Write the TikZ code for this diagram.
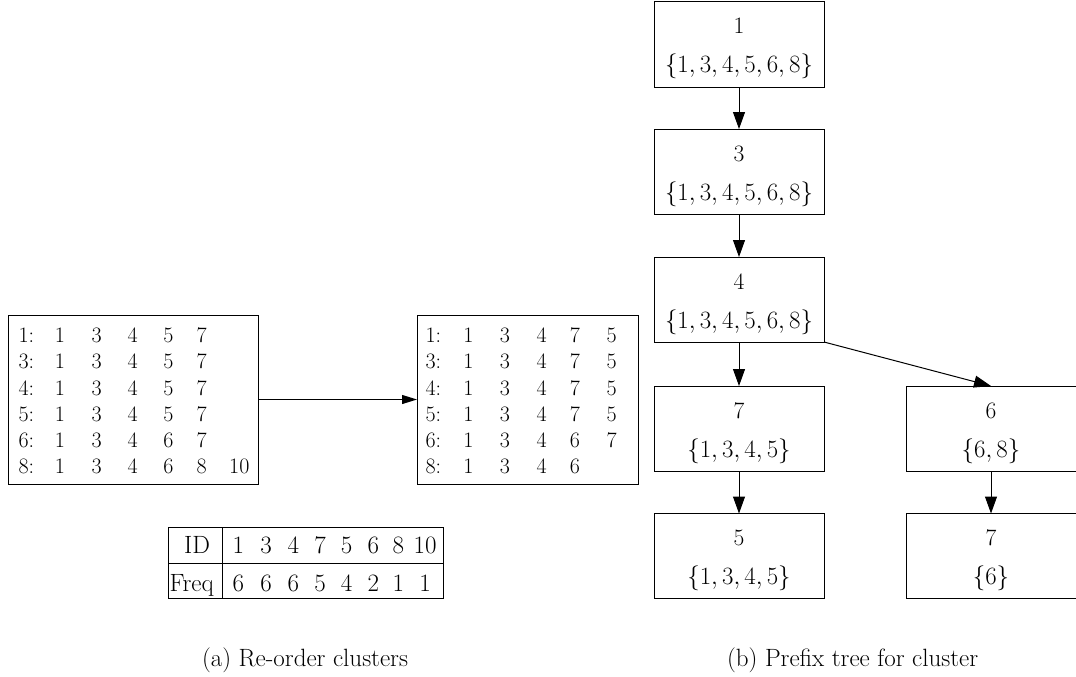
\documentclass[tikz,border=0pt]{standalone}
\usepackage{fontspec}
\usetikzlibrary{arrows.meta}
\begin{document}
\begin{tikzpicture}[x=1pt,y=-1pt,
  every node/.style={inner sep=0pt,outer sep=0pt},
  treebox/.style={draw,line width=1pt,minimum width=170pt,minimum height=85pt},
  treetxt/.style={font=\fontsize{23.5}{28}\selectfont,anchor=base},
  mattxt/.style={font=\fontsize{22}{26}\selectfont,anchor=base},
  tabtxt/.style={font=\fontsize{25}{30}\selectfont,anchor=base},
  matbox/.style={draw,line width=0.9pt},
  arr/.style={line width=1pt,-{Triangle[length=17pt,width=12pt]}},
  smallarr/.style={line width=1pt,-{Triangle[length=15pt,width=9pt]}},
  captxt/.style={font=\fontsize{25}{30}\selectfont,anchor=base}
]
\useasboundingbox (0,0) rectangle (1076,677);

% ---- left matrix
\node[matbox,minimum width=250pt,minimum height=169pt] (lm) at (133,399.5) {};
\foreach \r/\y in {1/342.4,3/368.7,4/395,5/421.3,6/447.6,8/473.9}{
  \node[mattxt,anchor=base west] (lml\r) at (18.5,\y) {\r:};
}
\foreach \r/\y/\a/\b/\c/\d/\e/\f in {1/342.4/1/3/4/5/7/,3/368.7/1/3/4/5/7/,4/395/1/3/4/5/7/,5/421.3/1/3/4/5/7/,6/447.6/1/3/4/6/7/,8/473.9/1/3/4/6/8/10}{
  \node[mattxt] (lma\r) at (60,\y) {\a};
  \node[mattxt] (lmb\r) at (96.7,\y) {\b};
  \node[mattxt] (lmc\r) at (132.7,\y) {\c};
  \node[mattxt] (lmd\r) at (168.3,\y) {\d};
  \node[mattxt] (lme\r) at (201.7,\y) {\e};
  \node[mattxt] (lmf\r) at (239.3,\y) {\f};
}

% ---- right matrix
\node[matbox,minimum width=221pt,minimum height=169pt] (rm) at (527.5,399.5) {};
\foreach \r/\y in {1/342.4,3/368.7,4/395,5/421.3,6/447.6,8/473.9}{
  \node[mattxt,anchor=base west] (rml\r) at (425.5,\y) {\r:};
}
\foreach \r/\y/\a/\b/\c/\d/\e in {1/342.4/1/3/4/7/5,3/368.7/1/3/4/7/5,4/395/1/3/4/7/5,5/421.3/1/3/4/7/5,6/447.6/1/3/4/6/7,8/473.9/1/3/4/6/}{
  \node[mattxt] (rma\r) at (468.3,\y) {\a};
  \node[mattxt] (rmb\r) at (505,\y) {\b};
  \node[mattxt] (rmc\r) at (541.7,\y) {\c};
  \node[mattxt] (rmd\r) at (575,\y) {\d};
  \node[mattxt] (rme\r) at (611.7,\y) {\e};
}

\draw[smallarr] (lm) -- (rm);

% ---- frequency table
\node[matbox,minimum width=275pt,minimum height=71pt] (tab) at (305.5,562.5) {};
\draw[line width=0.8pt] (tab.west |- 0,563) coordinate (hl) -- (tab.east |- 0,563) coordinate (hr);
\draw[line width=0.8pt] (tab.north -| 222,0) coordinate (vt) -- (tab.south -| 222,0) coordinate (vb);
\node[tabtxt,anchor=base east] (idlab) at (210,553) {ID};
\node[tabtxt,anchor=base west] (freqlab) at (169.5,591) {Freq};
\foreach \i/\x/\id/\fr in {1/238.3/1/6,2/266/3/6,3/293.3/4/6,4/320/7/5,5/346.7/5/4,6/373.3/6/2,7/398.3/8/1,8/425/10/1}{
  \node[tabtxt] (id\i) at (\x,553) {\id};
  \node[tabtxt] (fr\i) at (\x,591) {\fr};
}

% ---- prefix tree
\foreach \n/\x/\y/\top/\set in {
  a/739/44.5/1/{1,3,4,5,6,8},
  b/739/171.5/3/{1,3,4,5,6,8},
  c/739/299.5/4/{1,3,4,5,6,8},
  d/739/428.5/7/{1,3,4,5},
  e/739/556/5/{1,3,4,5},
  f/991/428.5/6/{6,8},
  g/991/556/7/{6}}{
  \node[treebox] (\n) at (\x,\y) {};
  \node[treetxt] (\n top) at ([yshift=10.5pt]\n.center) {\top};
  \node[treetxt] (\n set) at ([yshift=-28.5pt]\n.center) {$\{\set\}$};
}
\draw[arr] (a) -- (b);
\draw[arr] (b) -- (c);
\draw[arr] (c) -- (d);
\draw[arr] (d) -- (e);
\draw[arr] (f) -- (g);
\draw[arr] (c.south east) -- (f.north);

% ---- captions
\node[captxt,anchor=base west] (capa) at (202,666) {(a) Re-order clusters};
\node[captxt,anchor=base west] (capb) at (727,666) {(b) Prefix tree for cluster};
\end{tikzpicture}
\end{document}
